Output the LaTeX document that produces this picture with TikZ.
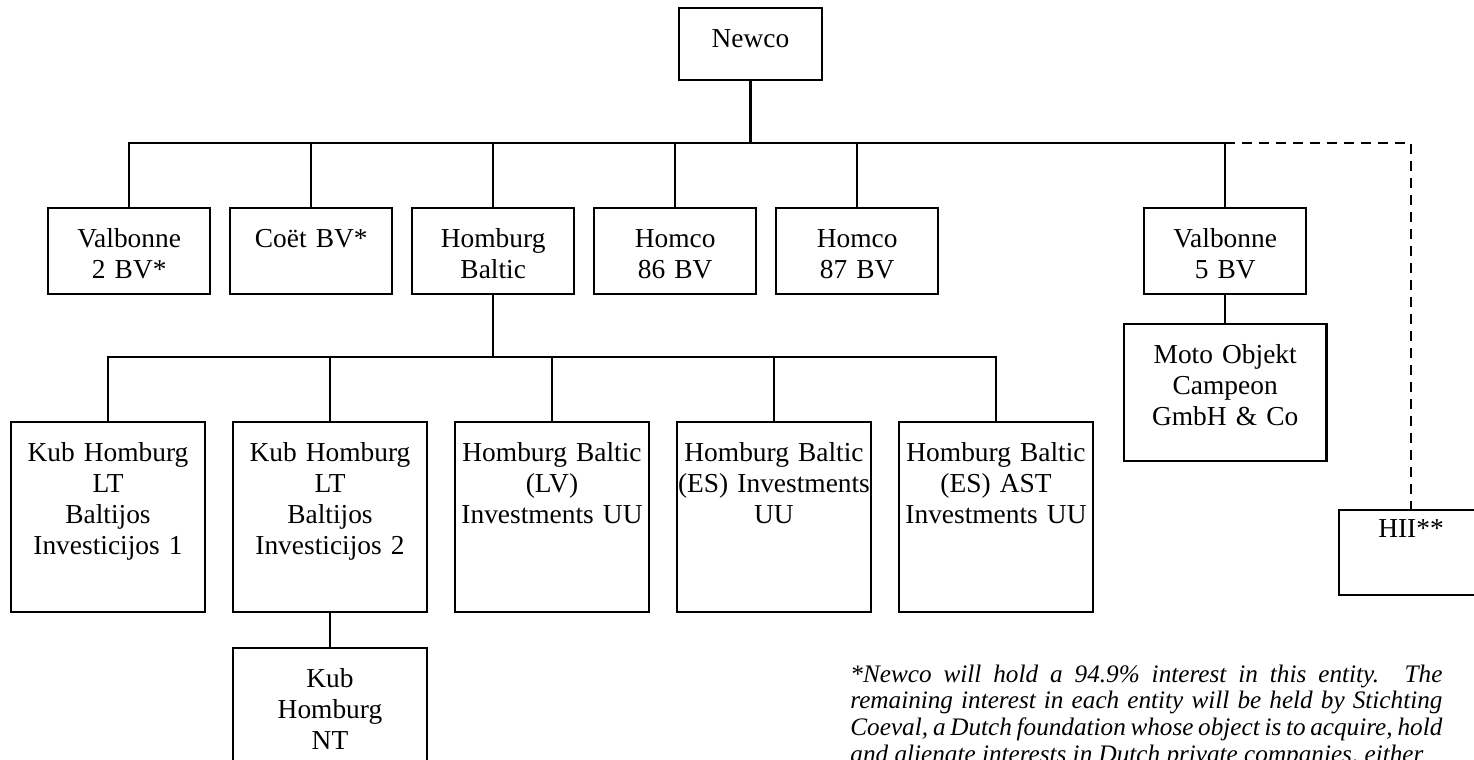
\documentclass[tikz,border=0pt]{standalone}
\usepackage{fontspec}
\setmainfont{Liberation Serif}
\usetikzlibrary{positioning}

\begin{document}
\begin{tikzpicture}[
  x=0.5pt, y=-0.5pt,
  font=\fontsize{13.7pt}{15.5pt}\selectfont,
  node distance=8.8pt and 8.8pt,
  ent/.style    ={rectangle, draw, line width=1.2pt, inner xsep=0pt, inner ysep=0pt,
                  text width=81pt, align=center, text height=19.5pt, text depth=23.3pt},
  rootbox/.style={ent, text width=71.3pt, text depth=16.3pt},
  sub/.style    ={ent, text width=96.8pt, text depth=75.3pt},
  grp/.style    ={ent, text width=101.3pt, text depth=48.8pt},
  hiibox/.style ={ent, text width=71.8pt, text height=13.5pt, text depth=28.8pt},
  note/.style   ={inner sep=0pt, text width=296pt, align=justify,
                  font=\fontsize{12.6pt}{13.4pt}\selectfont\itshape},
  conn/.style   ={line width=1.2pt},
  thin/.style   ={line width=0.8pt},
  own/.style    ={line width=1.2pt, dash pattern=on 5pt off 3.5pt},
]
\useasboundingbox (0,0) rectangle (1474,760);
\clip (0,0) rectangle (1474,760);

% ---- top ----
\node[rootbox, anchor=north] (newco) at (750.5,7) {Newco};

% ---- first level ----
\node[ent, anchor=north west] (v2) at (47,207) {Valbonne\\2 BV*};
\node[ent, right=of v2]   (coet) {Coët BV*};
\node[ent, right=of coet] (hb)   {Homburg\\Baltic};
\node[ent, right=of hb]   (h86)  {Homco\\86 BV};
\node[ent, right=of h86]  (h87)  {Homco\\87 BV};
\node[ent, right=101.8pt of h87] (v5) {Valbonne\\5 BV};

\node[grp, below=14pt of v5] (moto) {Moto Objekt\\Campeon\\GmbH \& Co};
\node[hiibox, anchor=north] (hii) at (1411,509) {HII**};

% ---- second level ----
\node[sub, anchor=north west] (kub1) at (10,421) {Kub Homburg\\LT\\Baltijos\\Investicijos 1};
\node[sub, right=13pt of kub1] (kub2) {Kub Homburg\\LT\\Baltijos\\Investicijos 2};
\node[sub, right=13pt of kub2] (lv)   {Homburg Baltic\\(LV)\\Investments UU};
\node[sub, right=13pt of lv]   (esi)  {Homburg Baltic\\(ES) Investments\\UU};
\node[sub, right=13pt of esi]  (esa)  {Homburg Baltic\\(ES) AST\\Investments UU};

\node[sub, below=17pt of kub2] (kubnt) {Kub\\Homburg\\NT};

% ---- footnote ----
\node[note, anchor=base west] (fn) at (850,682) {\parfillskip=0pt
  *Newco will hold a 94.9\% interest in this entity. The\linebreak
  remaining interest in each entity will be held by Stichting\linebreak
  Coeval, a Dutch foundation whose object is to acquire, hold\linebreak
  and alienate interests in Dutch private companies, either};

% ---- bus lines ----
\coordinate[below=31pt of newco] (bus1);
\coordinate[below=31pt of hb]    (bus2);

\draw[conn] (newco) -- (bus1);
\foreach \c in {v2,coet,hb,h86,h87,v5}
  \draw[conn] (bus1) -| (\c.north);
\draw[own] (v5.north |- bus1) -| (hii.north);

\draw[thin] (hb) -- (bus2);
\foreach \c in {kub1,kub2,lv,esi,esa}
  \draw[thin] (bus2) -| (\c.north);

\draw[thin] (kub2) -- (kubnt);
\draw[conn] (v5) -- (moto);

\end{tikzpicture}
\end{document}
